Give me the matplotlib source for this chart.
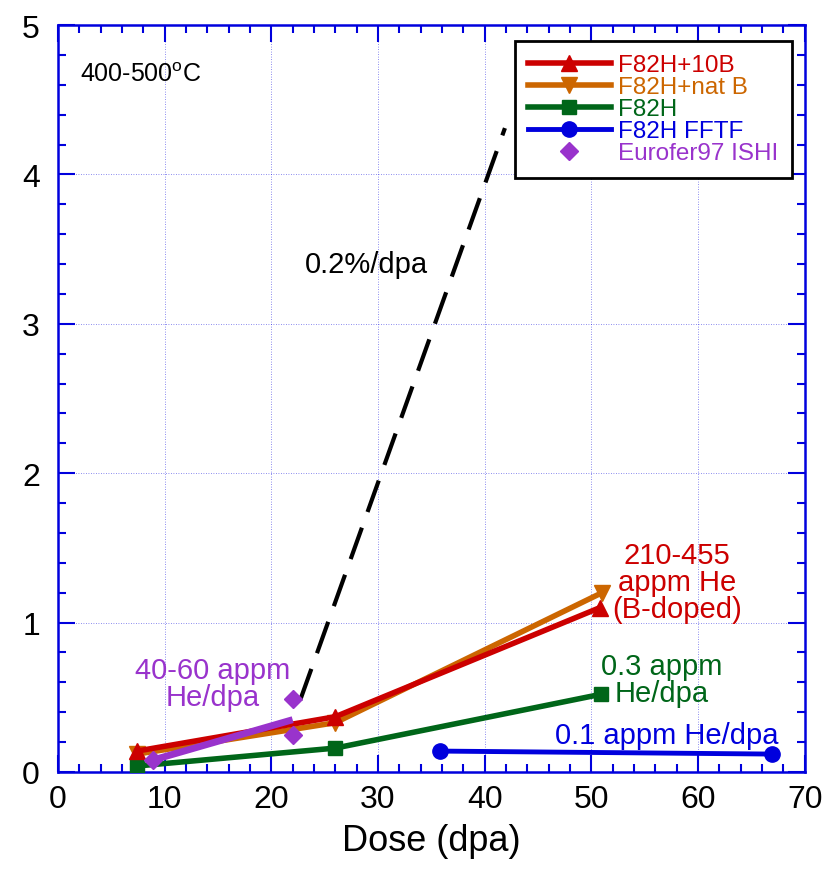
import numpy as np
import matplotlib
matplotlib.use('Agg')
import matplotlib.pyplot as plt
from matplotlib.ticker import MultipleLocator

plt.rcParams['font.family'] = ['Liberation Sans', 'DejaVu Sans']

# data
dose_10b = [7.4, 26.0, 50.8]
val_10b = [0.14, 0.37, 1.10]
dose_natb = [7.4, 26.0, 51.0]
val_natb = [0.12, 0.33, 1.20]
dose_f82h = [7.4, 26.0, 50.9]
val_f82h = [0.04, 0.16, 0.52]
dose_fftf = [35.8, 66.9]
val_fftf = [0.14, 0.12]
dose_euro = [8.9, 22.0, 22.0]
val_euro = [0.08, 0.49, 0.25]
fit_euro_x = [8.9, 22.0]
fit_euro_y = [0.08, 0.35]
guide_x = [22.7, 41.9]
guide_y = [0.48, 4.31]

red = '#cc0000'
orange = '#cc6600'
green = '#006619'
blue = '#0000dd'
purple = '#9933cc'

fig = plt.figure(figsize=(8.39, 8.70), dpi=100)
ax = fig.add_axes([0.0691, 0.1115, 0.890, 0.8586])

ax.plot(dose_10b, val_10b, color=red, lw=4, marker='^', ms=11, label='F82H+10B', zorder=5)
ax.plot(dose_natb, val_natb, color=orange, lw=4, marker='v', ms=11, label='F82H+nat B', zorder=4)
ax.plot(dose_f82h, val_f82h, color=green, lw=4, marker='s', ms=10, label='F82H', zorder=4)
ax.plot(dose_fftf, val_fftf, color=blue, lw=3.5, marker='o', ms=11, label='F82H FFTF', zorder=4)
ax.plot(dose_euro, val_euro, color=purple, lw=0, marker='D', ms=9, label='Eurofer97 ISHI', zorder=6)
ax.plot(fit_euro_x, fit_euro_y, color=purple, lw=5, zorder=6, solid_capstyle='butt')
ax.plot(guide_x, guide_y, color='black', lw=3, dashes=(8, 4), zorder=3)

ax.set_xlim(0, 70)
ax.set_ylim(0, 5)
ax.xaxis.set_major_locator(MultipleLocator(10))
ax.xaxis.set_minor_locator(MultipleLocator(2))
ax.yaxis.set_major_locator(MultipleLocator(1))
ax.yaxis.set_minor_locator(MultipleLocator(0.2))
ax.tick_params(which='both', direction='in', top=True, right=True, color=blue, labelsize=23)
ax.tick_params(which='major', length=12, width=1.5)
ax.tick_params(which='minor', length=6, width=1.5)
ax.tick_params(axis='x', which='major', pad=9)
ax.tick_params(axis='y', which='major', pad=13)
for s in ax.spines.values():
    s.set_color(blue)
    s.set_linewidth(1.8)
ax.grid(True, which='major', color=blue, ls=(0, (1, 2)), lw=0.6, alpha=0.6)

ax.set_xlabel('Dose (dpa)', fontsize=26, labelpad=6)

ax.text(2.06, 4.67, '400-500$^{\\mathregular{o}}$C', fontsize=18, va='center')
ax.text(23.1, 3.40, '0.2%/dpa', fontsize=21, va='center')
ax.text(58.0, 1.27, '210-455\nappm He\n(B-doped)', color=red, fontsize=21, ha='center', va='center', linespacing=0.95)
ax.text(56.6, 0.62, '0.3 appm\nHe/dpa', color=green, fontsize=21, ha='center', va='center', linespacing=0.95)
ax.text(57.1, 0.25, '0.1 appm He/dpa', color=blue, fontsize=21, ha='center', va='center')
ax.text(14.5, 0.59, '40-60 appm\nHe/dpa', color=purple, fontsize=21, ha='center', va='center', linespacing=0.95)

leg = ax.legend(loc='upper right', bbox_to_anchor=(0.9826, 0.9786), fontsize=17.5, frameon=True,
                fancybox=False, handlelength=3.4, handletextpad=0.3, labelspacing=0.0,
                borderpad=0.55, borderaxespad=0, framealpha=1)
leg.get_frame().set_edgecolor('black')
leg.get_frame().set_linewidth(2)
for t, c in zip(leg.get_texts(), [red, orange, green, blue, purple]):
    t.set_color(c)

fig.savefig('out.png', dpi=100)
